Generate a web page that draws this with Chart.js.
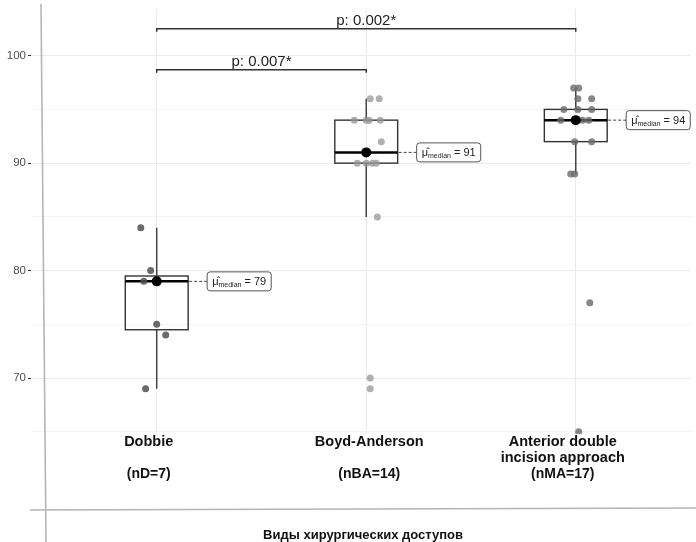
<!DOCTYPE html>
<html>
<head>
<meta charset="utf-8">
<script src="https://cdn.jsdelivr.net/npm/chart.js@4.4.1/dist/chart.umd.min.js"></script>
<style>
  html, body { margin: 0; padding: 0; background: #fff; }
  #wrap { width: 696px; height: 542px; position: relative; }
</style>
</head>
<body>
<div id="wrap"><canvas id="chart"></canvas></div>
<script>
// categories and counts
const groups = [["Dobbie"], ["Boyd-Anderson"], ["Anterior double", "incision approach"]];
const groupCounts = ["(nD=7)", "(nBA=14)", "(nMA=17)"];
const labelShift = [-8, 3, -13]; // px, labels are not quite centred in the original

// raw values
const dobbieValues = [84, 80, 79, 79, 75, 74, 69];
const boydValues = [96, 96, 94, 94, 94, 94, 92, 90, 90, 90, 90, 85, 70, 69];
const anteriorValues = [97, 97, 96, 96, 95, 95, 95, 94, 94, 94, 94, 92, 92, 89, 89, 77, 65];

// horizontal jitter of the dots (in category units)
const dobbieJitter = [-0.076, -0.029, -0.062, 0, 0, 0.043, -0.053];
const boydJitter = [0.019, 0.062, -0.057, 0, 0.014, 0.067, 0.072, -0.043, 0.029, 0.048, 0, 0.053, 0.019, 0.019];
const anteriorJitter = [-0.01, 0.014, 0.01, 0.076, -0.057, 0.01, 0.076, -0.072, 0, 0.033, 0.062, -0.005, 0.076, -0.024, -0.005, 0.067, 0.014];

// pairwise comparisons
const pairFrom = [1, 1];
const pairTo = [3, 2];
const pairText = ["p: 0.002*", "p: 0.007*"];
const pairY = [102.5, 98.7];

const axisTitle = "Виды хирургических доступов";

const allValues = [dobbieValues, boydValues, anteriorValues];
const allJitter = [dobbieJitter, boydJitter, anteriorJitter];
const dotColors = ["rgba(80,80,80,0.85)", "rgba(150,150,150,0.75)", "rgba(105,105,105,0.8)"];

function quantile(sorted, p) {
    const h = (sorted.length - 1) * p;
    const lo = Math.floor(h);
    const hi = Math.ceil(h);
    return sorted[lo] + (h - lo) * (sorted[hi] - sorted[lo]);
}

// box statistics computed from the values
const stats = allValues.map(vals => {
    const s = [...vals].sort((a, b) => a - b);
    const q1 = quantile(s, 0.25);
    const med = quantile(s, 0.5);
    const q3 = quantile(s, 0.75);
    const iqr = q3 - q1;
    const lowW = Math.min(...s.filter(v => v >= q1 - 1.5 * iqr));
    const highW = Math.max(...s.filter(v => v <= q3 + 1.5 * iqr));
    return { q1, med, q3, lowW, highW };
});

const FONT = '"Liberation Sans", Arial, sans-serif';

const boxPlugin = {
    id: "boxes",
    beforeDatasetsDraw(chart) {
        const ctx = chart.ctx;
        const xs = chart.scales.x, ys = chart.scales.y;
        ctx.save();
        stats.forEach((st, i) => {
            const cx = xs.getPixelForValue(i + 1);
            const half = xs.getPixelForValue(i + 1 + 0.15) - cx;
            // whiskers
            ctx.strokeStyle = "#444";
            ctx.lineWidth = 1.5;
            ctx.beginPath();
            ctx.moveTo(cx, ys.getPixelForValue(st.highW));
            ctx.lineTo(cx, ys.getPixelForValue(st.q3));
            ctx.moveTo(cx, ys.getPixelForValue(st.q1));
            ctx.lineTo(cx, ys.getPixelForValue(st.lowW));
            ctx.stroke();
            // box
            ctx.strokeStyle = "#333";
            ctx.lineWidth = 1.4;
            const top = ys.getPixelForValue(st.q3), bot = ys.getPixelForValue(st.q1);
            ctx.strokeRect(cx - half, top, half * 2, bot - top);
            // median
            const my = ys.getPixelForValue(st.med);
            ctx.strokeStyle = "#000";
            ctx.lineWidth = 2.5;
            ctx.beginPath();
            ctx.moveTo(cx - half, my);
            ctx.lineTo(cx + half, my);
            ctx.stroke();
        });
        ctx.restore();
    },
    afterDatasetsDraw(chart) {
        const ctx = chart.ctx;
        const xs = chart.scales.x, ys = chart.scales.y;
        ctx.save();
        // median labels
        stats.forEach((st, i) => {
            const cx = xs.getPixelForValue(i + 1);
            const half = xs.getPixelForValue(i + 1 + 0.15) - cx;
            const my = ys.getPixelForValue(st.med);
            const left = cx + half + 19;
            ctx.setLineDash([3, 2]);
            ctx.strokeStyle = "#444";
            ctx.lineWidth = 1;
            ctx.beginPath();
            ctx.moveTo(cx + half + 1, my);
            ctx.lineTo(left, my);
            ctx.stroke();
            ctx.setLineDash([]);
            const a = "\u03BC\u0302", b = "median", c = " = " + st.med;
            ctx.font = "11px " + FONT;
            const wa = ctx.measureText(a).width;
            const wc = ctx.measureText(c).width;
            ctx.font = "7px " + FONT;
            const wb = ctx.measureText(b).width;
            const w = wa + wb + wc + 10, h = 19;
            ctx.fillStyle = "#fff";
            ctx.strokeStyle = "#555";
            ctx.beginPath();
            ctx.roundRect(left, my - h / 2, w, h, 3);
            ctx.fill();
            ctx.stroke();
            ctx.fillStyle = "#222";
            ctx.textBaseline = "alphabetic";
            ctx.textAlign = "left";
            ctx.font = "11px " + FONT;
            ctx.fillText(a, left + 5, my + 4);
            ctx.font = "7px " + FONT;
            ctx.fillText(b, left + 5 + wa, my + 6);
            ctx.font = "11px " + FONT;
            ctx.fillText(c, left + 5 + wa + wb, my + 4);
        });
        // significance brackets
        ctx.strokeStyle = "#333";
        ctx.lineWidth = 1.5;
        pairText.forEach((t, k) => {
            const x1 = xs.getPixelForValue(pairFrom[k]);
            const x2 = xs.getPixelForValue(pairTo[k]);
            const y = ys.getPixelForValue(pairY[k]);
            ctx.beginPath();
            ctx.moveTo(x1, y + 3);
            ctx.lineTo(x1, y);
            ctx.lineTo(x2, y);
            ctx.lineTo(x2, y + 3);
            ctx.stroke();
            ctx.fillStyle = "#222";
            ctx.font = "15px " + FONT;
            ctx.textAlign = "center";
            ctx.textBaseline = "alphabetic";
            ctx.fillText(t, (x1 + x2) / 2, y - 4);
        });
        ctx.restore();
    },
    afterDraw(chart) {
        const ctx = chart.ctx;
        const xs = chart.scales.x;
        const area = chart.chartArea;
        ctx.save();
        // category labels under the panel
        ctx.fillStyle = "#111";
        ctx.textAlign = "center";
        ctx.textBaseline = "middle";
        groups.forEach((g, i) => {
            const x = xs.getPixelForValue(i + 1) + labelShift[i];
            ctx.font = "bold 14.5px " + FONT;
            g.forEach((line, j) => ctx.fillText(line, x, area.bottom + 8 + j * 16));
            ctx.font = "bold 14px " + FONT;
            ctx.fillText(groupCounts[i], x, area.bottom + 40);
        });
        // outer frame lines (slightly skewed like the scan)
        ctx.strokeStyle = "#b5b5b5";
        ctx.lineWidth = 1.6;
        ctx.beginPath();
        ctx.moveTo(41, 4);
        ctx.lineTo(46, 542);
        ctx.moveTo(30, 510);
        ctx.lineTo(696, 508);
        ctx.stroke();
        ctx.fillStyle = "#111";
        ctx.font = "bold 13px " + FONT;
        ctx.textAlign = "center";
        ctx.fillText(axisTitle, 363, 535);
        ctx.restore();
    }
};

const dotDatasets = allValues.map((vals, i) => ({
    type: "scatter",
    data: vals.map((v, k) => ({ x: i + 1 + allJitter[i][k], y: v })),
    backgroundColor: dotColors[i],
    borderWidth: 0,
    pointRadius: 3.5,
    order: 2
}));

const medianDataset = {
    type: "scatter",
    data: stats.map((st, i) => ({ x: i + 1, y: st.med })),
    backgroundColor: "#000",
    borderWidth: 0,
    pointRadius: 5,
    order: 0
};

new Chart(document.getElementById("chart"), {
    type: "scatter",
    data: { datasets: [medianDataset, ...dotDatasets] },
    options: {
        responsive: true,
        maintainAspectRatio: false,
        animation: false,
        layout: { padding: { top: 7, bottom: 108, left: 0, right: 0 } },
        plugins: { legend: { display: false }, tooltip: { enabled: false } },
        scales: {
            x: {
                type: "linear",
                min: 0.4,
                max: 3.55,
                afterBuildTicks: s => { s.ticks = [{ value: 1 }, { value: 2 }, { value: 3 }]; },
                ticks: { display: false },
                grid: { color: "#ebebeb", lineWidth: 1, drawTicks: false },
                border: { display: false }
            },
            y: {
                min: 64.8,
                max: 104.35,
                afterFit: s => { s.width = 31; },
                ticks: {
                    stepSize: 5,
                    includeBounds: false,
                    padding: 2,
                    color: "#4d4d4d",
                    font: { family: FONT, size: 11.5 },
                    callback: v => (v % 10 === 0 ? String(v) : "")
                },
                grid: {
                    color: c => (c.tick && c.tick.value % 10 === 0 ? "#ebebeb" : "#f4f4f4"),
                    tickColor: c => (c.tick && c.tick.value % 10 === 0 ? "#333" : "rgba(0,0,0,0)"),
                    tickLength: 3,
                    lineWidth: 1
                },
                border: { display: false }
            }
        }
    },
    plugins: [boxPlugin]
});
</script>
</body>
</html>
